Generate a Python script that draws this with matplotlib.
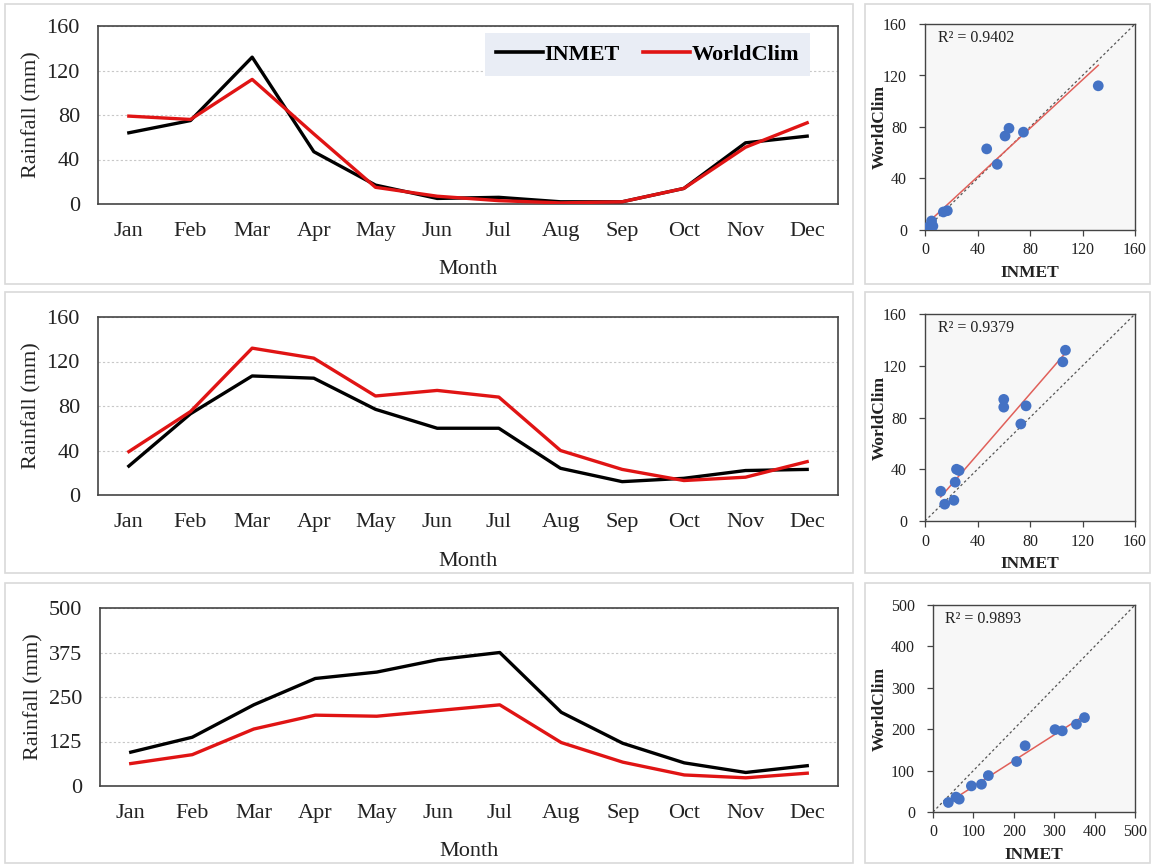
import numpy as np
import matplotlib
matplotlib.use("Agg")
import matplotlib.pyplot as plt
from matplotlib.patches import Rectangle

months = ["Jan", "Feb", "Mar", "Apr", "May", "Jun", "Jul", "Aug", "Sep", "Oct", "Nov", "Dec"]

inmet_1 = [64, 75, 132, 47, 17, 5, 6, 2, 2, 14, 55, 61]
worldclim_1 = [79, 76, 112, 63, 15, 7, 3, 1, 2, 14, 51, 73]
inmet_2 = [26, 73, 107, 105, 77, 60, 60, 24, 12, 15, 22, 23]
worldclim_2 = [39, 75, 132, 123, 89, 94, 88, 40, 23, 13, 16, 30]
inmet_3 = [95, 137, 228, 302, 320, 355, 375, 207, 120, 65, 38, 57]
worldclim_3 = [63, 88, 160, 199, 196, 212, 228, 122, 67, 31, 23, 36]

yticks_12 = [0, 40, 80, 120, 160]
yticks_3 = [0, 125, 250, 375, 500]
sticks_12 = [0, 40, 80, 120, 160]
sticks_3 = [0, 100, 200, 300, 400, 500]
r2_labels = ["R² = 0.9402", "R² = 0.9379", "R² = 0.9893"]

plt.rcParams['font.family'] = ['Liberation Serif', 'DejaVu Serif']

W, H = 1153, 866
fig = plt.figure(figsize=(W / 100, H / 100), dpi=100)


def fx(px):
    return px / W


def fy(py):
    return 1 - py / H


# panel frames
for (x0, x1, y0, y1) in [(5, 853, 4, 284), (5, 853, 292, 573), (5, 853, 583, 863),
                         (865, 1150, 4, 284), (865, 1150, 292, 573), (865, 1150, 583, 863)]:
    fig.patches.append(Rectangle((fx(x0), fy(y1)), fx(x1 - x0), (y1 - y0) / H,
                                 transform=fig.transFigure, fill=False,
                                 edgecolor='#d9d9d9', linewidth=1.2))

line_specs = [
    (inmet_1, worldclim_1, yticks_12, (98, 838, 26, 204)),
    (inmet_2, worldclim_2, yticks_12, (98, 838, 317, 495)),
    (inmet_3, worldclim_3, yticks_3, (100, 838, 608, 786)),
]

for inm, wc, yt, (l, r, t, b) in line_specs:
    ax = fig.add_axes([fx(l), fy(b), fx(r - l), (b - t) / H])
    x = np.arange(len(months))
    ax.plot(x, inm, color='black', lw=2.4, label='INMET', zorder=3)
    ax.plot(x, wc, color='#e01414', lw=2.4, label='WorldClim', zorder=3)
    ax.set_xlim(-0.5, len(months) - 0.5)
    ax.set_ylim(yt[0], yt[-1])
    ax.set_yticks(yt)
    ax.set_xticks(x)
    ax.set_xticklabels(months)
    ax.tick_params(axis='both', length=0, labelsize=16, colors='#222222')
    ax.tick_params(axis='x', pad=13)
    ax.tick_params(axis='y', pad=13)
    ax.yaxis.grid(True, linestyle=(0, (2, 2)), color='#c8c8c8', lw=0.8)
    ax.set_axisbelow(True)
    for s in ax.spines.values():
        s.set_color('#444444')
        s.set_linewidth(1.2)
    ax.set_ylabel('Rainfall (mm)', fontsize=16, color='#222222', labelpad=4)
    ax.set_xlabel('Month', fontsize=16, color='#222222', labelpad=14)
    leg = ax.legend(loc='upper right', bbox_to_anchor=((810 - l) / (r - l), (b - 33) / (b - t)),
                    borderaxespad=0, ncol=2, frameon=True, fancybox=False,
                    facecolor='#e9edf5', edgecolor='none', framealpha=1,
                    prop={'weight': 'bold', 'size': 16}, handlelength=2.1,
                    handletextpad=0.05, columnspacing=1.1, borderpad=0.5)
    for h in leg.get_lines():
        h.set_linewidth(2.6)

scatter_specs = [
    (inmet_1, worldclim_1, sticks_12, (925, 1135, 24, 230), r2_labels[0]),
    (inmet_2, worldclim_2, sticks_12, (925, 1135, 314, 521), r2_labels[1]),
    (inmet_3, worldclim_3, sticks_3, (933, 1135, 605, 812), r2_labels[2]),
]

for inm, wc, st, (l, r, t, b), r2 in scatter_specs:
    ax = fig.add_axes([fx(l), fy(b), fx(r - l), (b - t) / H])
    ax.set_facecolor('#f7f7f7')
    lim = st[-1]
    ax.plot([0, lim], [0, lim], linestyle=(0, (2, 2)), color='#555555', lw=0.9, zorder=1)
    xi = np.array(inm, float)
    yi = np.array(wc, float)
    k, c = np.polyfit(xi, yi, 1)
    xs = np.array([xi.min(), xi.max()])
    ax.plot(xs, k * xs + c, color='#e0605a', lw=1.1, zorder=2)
    ax.scatter(xi, yi, s=60, color='#4472c4', edgecolors='none', zorder=3)
    ax.set_xlim(0, lim)
    ax.set_ylim(0, lim)
    ax.set_xticks(st)
    ax.set_yticks(st)
    ax.tick_params(axis='both', direction='out', length=4, width=0.9, color='#444444',
                   labelsize=11.5, labelcolor='#222222', pad=5)
    ax.tick_params(axis='y', pad=9)
    for s in ax.spines.values():
        s.set_color('#444444')
        s.set_linewidth(1.0)
    ax.set_xlabel('INMET', fontsize=12.5, fontweight='bold', color='#222222', labelpad=5)
    ax.set_ylabel('WorldClim', fontsize=12.5, fontweight='bold', color='#222222')
    ax.yaxis.set_label_coords((888 - l) / (r - l), 0.5)
    ax.text(0.06, 0.93, r2, transform=ax.transAxes, fontsize=11.5, va='center', ha='left',
            color='#222222')

fig.savefig('out.png', dpi=100, facecolor='white')
